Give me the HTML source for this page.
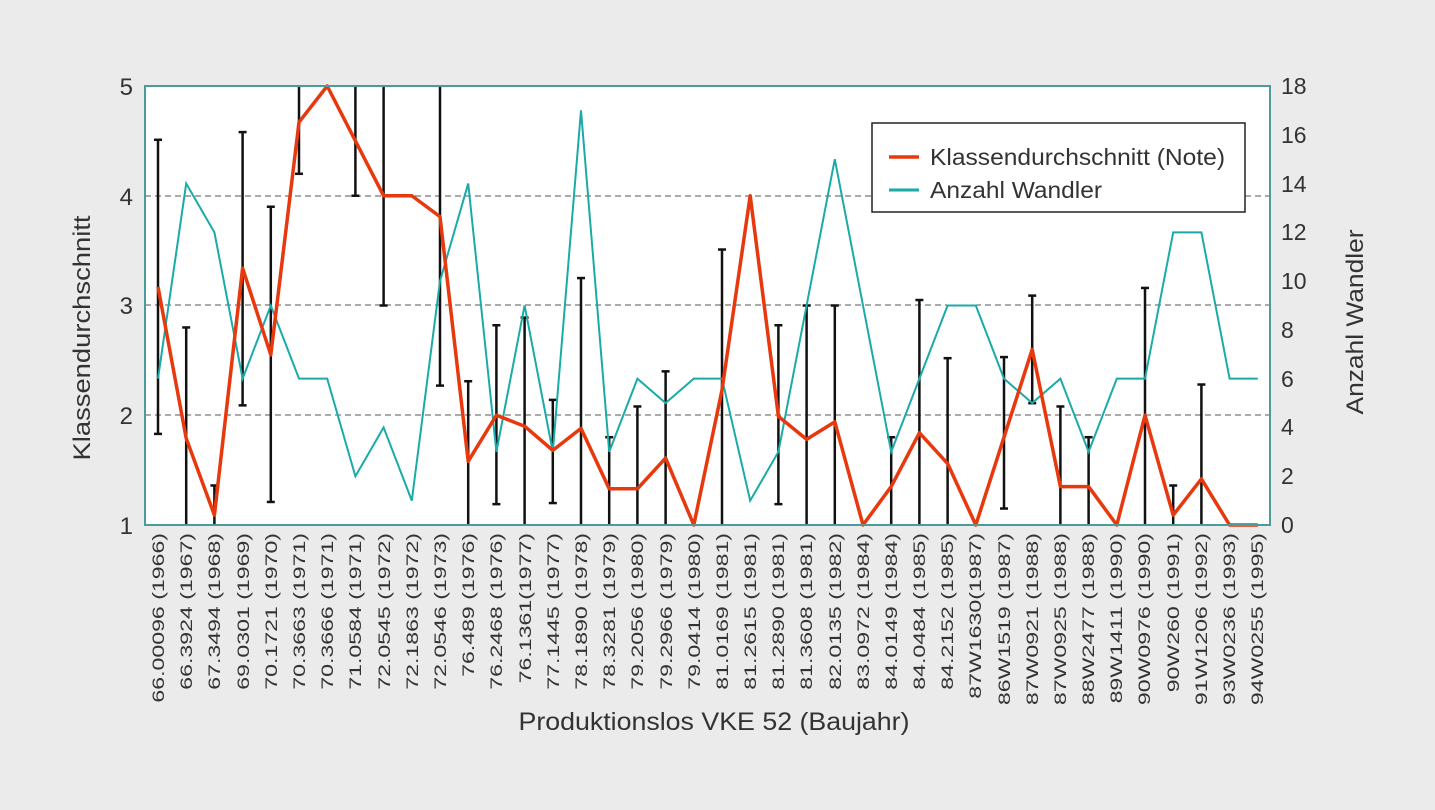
<!DOCTYPE html>
<html><head><meta charset="utf-8"><style>
body{margin:0;background:#ebebeb;}
svg{display:block;font-family:"Liberation Sans",sans-serif;}
</style></head><body>
<svg id="s" width="1435" height="810" xmlns="http://www.w3.org/2000/svg">
<rect width="1435" height="810" fill="#ebebeb"/>
<rect x="145" y="86" width="1125" height="439" fill="#fff"/>
<g stroke="#555" stroke-dasharray="6,4" stroke-width="1">
<line x1="145" x2="1270" y1="196" y2="196"/>
<line x1="145" x2="1270" y1="305" y2="305"/>
<line x1="145" x2="1270" y1="415" y2="415"/>
</g>
<g id="eb" stroke="#111" stroke-width="2.5"></g>
<polyline id="teal" fill="none" stroke="#1aaba8" stroke-width="2"/>
<polyline id="red" fill="none" stroke="#e8380d" stroke-width="3.5" stroke-linejoin="round"/>
<rect x="145" y="86" width="1125" height="439" fill="none" stroke="#4a9c9a" stroke-width="2"/>
<g font-size="24" fill="#333" text-anchor="end">
<text x="133" y="95">5</text><text x="133" y="205">4</text><text x="133" y="314">3</text><text x="133" y="424">2</text><text x="133" y="534">1</text>
</g>
<g font-size="23" fill="#333" text-anchor="start">
<text x="1281" y="94">18</text><text x="1281" y="143">16</text><text x="1281" y="192">14</text><text x="1281" y="240">12</text><text x="1281" y="289">10</text><text x="1281" y="338">8</text><text x="1281" y="387">6</text><text x="1281" y="435">4</text><text x="1281" y="484">2</text><text x="1281" y="533">0</text>
</g>
<text transform="translate(90,338) rotate(-90)" font-size="24" fill="#333" text-anchor="middle" textLength="245" lengthAdjust="spacingAndGlyphs">Klassendurchschnitt</text>
<text transform="translate(1363,322) rotate(-90)" font-size="24" fill="#333" text-anchor="middle" textLength="185" lengthAdjust="spacingAndGlyphs">Anzahl Wandler</text>
<text x="714" y="730" font-size="25" fill="#333" text-anchor="middle" textLength="391" lengthAdjust="spacingAndGlyphs">Produktionslos VKE 52 (Baujahr)</text>
<g font-size="17" fill="#333" text-anchor="end">
<text transform="translate(164,533) rotate(-90) scale(1.36,1)">66.00096 (1966)</text>
<text transform="translate(192,533) rotate(-90) scale(1.36,1)">66.3924 (1967)</text>
<text transform="translate(220,533) rotate(-90) scale(1.36,1)">67.3494 (1968)</text>
<text transform="translate(249,533) rotate(-90) scale(1.36,1)">69.0301 (1969)</text>
<text transform="translate(277,533) rotate(-90) scale(1.36,1)">70.1721 (1970)</text>
<text transform="translate(305,533) rotate(-90) scale(1.36,1)">70.3663 (1971)</text>
<text transform="translate(333,533) rotate(-90) scale(1.36,1)">70.3666 (1971)</text>
<text transform="translate(361,533) rotate(-90) scale(1.36,1)">71.0584 (1971)</text>
<text transform="translate(390,533) rotate(-90) scale(1.36,1)">72.0545 (1972)</text>
<text transform="translate(418,533) rotate(-90) scale(1.36,1)">72.1863 (1972)</text>
<text transform="translate(446,533) rotate(-90) scale(1.36,1)">72.0546 (1973)</text>
<text transform="translate(474,533) rotate(-90) scale(1.36,1)">76.489 (1976)</text>
<text transform="translate(502,533) rotate(-90) scale(1.36,1)">76.2468 (1976)</text>
<text transform="translate(531,533) rotate(-90) scale(1.36,1)">76.1361(1977)</text>
<text transform="translate(559,533) rotate(-90) scale(1.36,1)">77.1445 (1977)</text>
<text transform="translate(587,533) rotate(-90) scale(1.36,1)">78.1890 (1978)</text>
<text transform="translate(615,533) rotate(-90) scale(1.36,1)">78.3281 (1979)</text>
<text transform="translate(643,533) rotate(-90) scale(1.36,1)">79.2056 (1980)</text>
<text transform="translate(672,533) rotate(-90) scale(1.36,1)">79.2966 (1979)</text>
<text transform="translate(700,533) rotate(-90) scale(1.36,1)">79.0414 (1980)</text>
<text transform="translate(728,533) rotate(-90) scale(1.36,1)">81.0169 (1981)</text>
<text transform="translate(756,533) rotate(-90) scale(1.36,1)">81.2615 (1981)</text>
<text transform="translate(784,533) rotate(-90) scale(1.36,1)">81.2890 (1981)</text>
<text transform="translate(812,533) rotate(-90) scale(1.36,1)">81.3608 (1981)</text>
<text transform="translate(841,533) rotate(-90) scale(1.36,1)">82.0135 (1982)</text>
<text transform="translate(869,533) rotate(-90) scale(1.36,1)">83.0972 (1984)</text>
<text transform="translate(897,533) rotate(-90) scale(1.36,1)">84.0149 (1984)</text>
<text transform="translate(925,533) rotate(-90) scale(1.36,1)">84.0484 (1985)</text>
<text transform="translate(953,533) rotate(-90) scale(1.36,1)">84.2152 (1985)</text>
<text transform="translate(981,533) rotate(-90) scale(1.36,1)">87W1630(1987)</text>
<text transform="translate(1010,533) rotate(-90) scale(1.36,1)">86W1519 (1987)</text>
<text transform="translate(1038,533) rotate(-90) scale(1.36,1)">87W0921 (1988)</text>
<text transform="translate(1066,533) rotate(-90) scale(1.36,1)">87W0925 (1988)</text>
<text transform="translate(1094,533) rotate(-90) scale(1.36,1)">88W2477 (1988)</text>
<text transform="translate(1122,533) rotate(-90) scale(1.36,1)">89W1411 (1990)</text>
<text transform="translate(1150,533) rotate(-90) scale(1.36,1)">90W0976 (1990)</text>
<text transform="translate(1179,533) rotate(-90) scale(1.36,1)">90W260 (1991)</text>
<text transform="translate(1207,533) rotate(-90) scale(1.36,1)">91W1206 (1992)</text>
<text transform="translate(1235,533) rotate(-90) scale(1.36,1)">93W0236 (1993)</text>
<text transform="translate(1263,533) rotate(-90) scale(1.36,1)">94W0255 (1995)</text>
</g>
<rect x="872" y="123" width="373" height="89" fill="#fff" stroke="#222" stroke-width="1.5"/>
<line x1="889" x2="919" y1="157" y2="157" stroke="#e8380d" stroke-width="3.5"/>
<line x1="889" x2="919" y1="190" y2="190" stroke="#1aaba8" stroke-width="3"/>
<text x="930" y="165" font-size="23" fill="#333" textLength="295" lengthAdjust="spacingAndGlyphs">Klassendurchschnitt (Note)</text>
<text x="930" y="198" font-size="23" fill="#333" textLength="172" lengthAdjust="spacingAndGlyphs">Anzahl Wandler</text>
</svg>
<script>
var r=[3.17,1.79,1.09,3.34,2.55,4.67,5,4.5,4,4,3.81,1.58,2.0,1.9,1.68,1.88,1.33,1.33,1.61,1,2.23,4.0,1.99,1.78,1.94,1,1.35,1.84,1.56,1,1.8,2.6,1.35,1.35,1,2.0,1.09,1.42,1,1];
var t=[6,14,12,6,9,6,6,2,4,1,10,14,3,9,3,17,3,6,5,6,6,1,3,9,15,9,3,6,9,9,6,5,6,3,6,6,12,12,6,6];
var e=[[4.51,1.83],[2.8,1],[1.36,1],[4.58,2.09],[3.9,1.21],[5,4.2],null,[5,4],[5,3],null,[5,2.27],[2.31,1],[2.82,1.19],[2.89,1],[2.14,1.2],[3.25,1],[1.8,1],[2.08,1],[2.4,1],null,[3.51,1],null,[2.82,1.19],[3,1],[3,1],null,[1.8,1],[3.05,1],[2.52,1],null,[2.53,1.15],[3.09,2.11],[2.08,1],[1.8,1],null,[3.16,1],[1.36,1],[2.28,1],null,null];
function X(i){return 158+28.2*i}function Y(v){return 525-(v-1)*109.75}function N(n){return 525-n*24.39}
var ns="http://www.w3.org/2000/svg";
document.getElementById('red').setAttribute('points',r.map(function(v,i){return X(i)+','+Y(v)}).join(' '));
document.getElementById('teal').setAttribute('points',t.map(function(v,i){return X(i)+','+N(v)}).join(' '));
var g=document.getElementById('eb');
function L(a,b,c,d){var l=document.createElementNS(ns,'line');l.setAttribute('x1',a);l.setAttribute('y1',b);l.setAttribute('x2',c);l.setAttribute('y2',d);g.appendChild(l);}
e.forEach(function(p,i){if(!p)return;var x=X(i),a=Y(p[0]),b=Y(p[1]);L(x,a,x,b);if(p[0]<5)L(x-4,a,x+4,a);if(p[1]>1)L(x-4,b,x+4,b);});
</script>
</body></html>
